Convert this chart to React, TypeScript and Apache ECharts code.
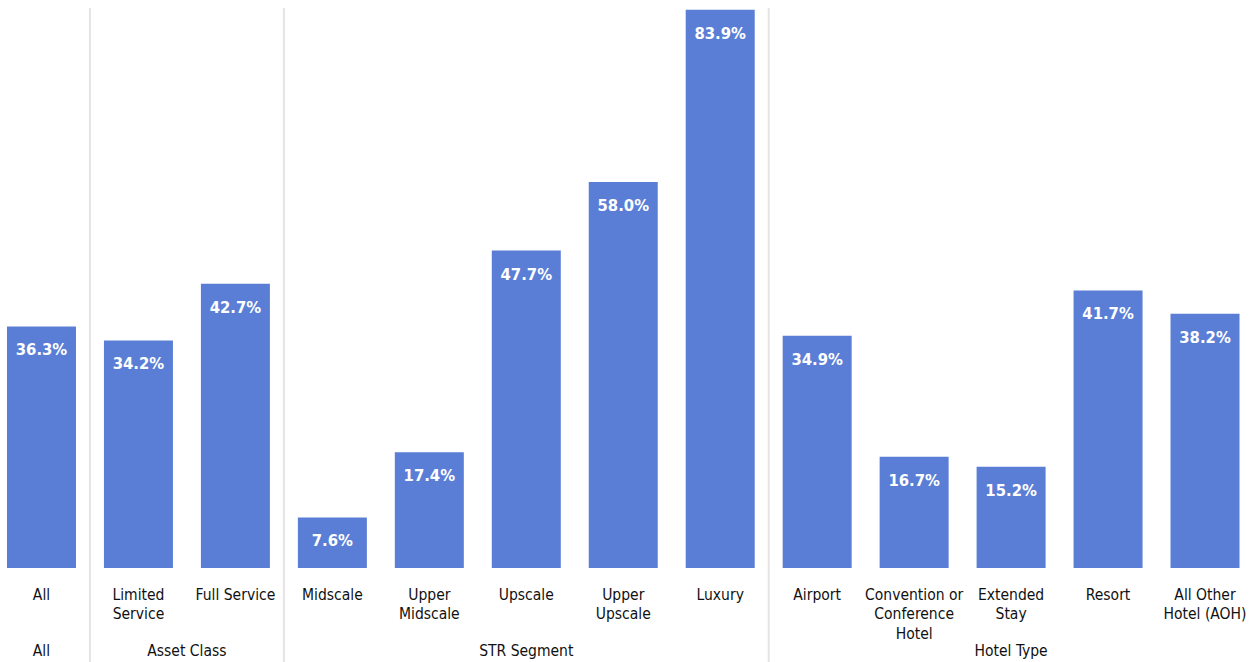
import React, { useEffect, useRef } from "react";
import * as echarts from "echarts";

const categories = [
  "All",
  "Limited\nService",
  "Full Service",
  "Midscale",
  "Upper\nMidscale",
  "Upscale",
  "Upper\nUpscale",
  "Luxury",
  "Airport",
  "Convention or\nConference\nHotel",
  "Extended\nStay",
  "Resort",
  "All Other\nHotel (AOH)",
];
const values = [36.3, 34.2, 42.7, 7.6, 17.4, 47.7, 58.0, 83.9, 34.9, 16.7, 15.2, 41.7, 38.2];
const groupNames = ["All", "Asset Class", "STR Segment", "Hotel Type"];
const groupSizes = [1, 2, 5, 5];

const FONT = '"DejaVu Sans Condensed", "Liberation Sans Narrow", sans-serif';
const BAR_COLOR = "#5A7ED6";
const TEXT_COLOR = "#111111";
const SHIFT = 7;

export default function App() {
  const ref = useRef<HTMLDivElement>(null);

  useEffect(() => {
    if (!ref.current) return;
    const chart = echarts.init(ref.current, undefined, { renderer: "svg" });
    chart.setOption({
      animation: false,
      grid: { left: 0, right: 3.5, top: 9, bottom: 94, containLabel: false },
      xAxis: {
        type: "category",
        data: categories,
        axisLine: { show: false },
        axisTick: { show: false },
        axisLabel: {
          interval: 0,
          margin: 17,
          color: TEXT_COLOR,
          fontFamily: FONT,
          fontSize: 15.5,
          lineHeight: 19.5,
          verticalAlign: "top",
        },
      },
      yAxis: {
        type: "value",
        min: 0,
        max: 84,
        show: false,
        splitLine: { show: false },
      },
      series: [
        {
          type: "bar",
          data: values,
          barWidth: 69,
          itemStyle: { color: BAR_COLOR },
          label: {
            show: true,
            position: "insideTop",
            distance: 15,
            color: "#ffffff",
            fontFamily: FONT,
            fontWeight: "bold",
            fontSize: 16.5,
            formatter: (p: any) => `${Number(p.value).toFixed(1)}%`,
          },
        },
      ],
    });

    const px = (i: number) => chart.convertToPixel({ xAxisIndex: 0 }, i) as number;
    const band = px(1) - px(0);
    const graphics: any[] = [];
    let start = 0;
    groupNames.forEach((name, g) => {
      const first = start;
      const last = start + groupSizes[g] - 1;
      const cx = (px(first) + px(last)) / 2;
      graphics.push({
        type: "text",
        style: {
          text: name,
          x: cx,
          y: 651,
          textAlign: "center",
          textVerticalAlign: "middle",
          fontFamily: FONT,
          fontSize: 15.5,
          fill: TEXT_COLOR,
        },
      });
      if (g < groupNames.length - 1) {
        const sx = px(last) + band / 2;
        graphics.push({
          type: "line",
          z: -1,
          shape: { x1: sx, y1: 8, x2: sx, y2: 662 },
          style: { stroke: "#e4e4e4", lineWidth: 2 },
        });
      }
      start = last + 1;
    });
    chart.setOption({ graphic: graphics });

    return () => chart.dispose();
  }, []);

  return (
    <div
      ref={ref}
      style={{ position: "absolute", left: -SHIFT, top: 0, width: 1257 + SHIFT, height: 662 }}
    />
  );
}
